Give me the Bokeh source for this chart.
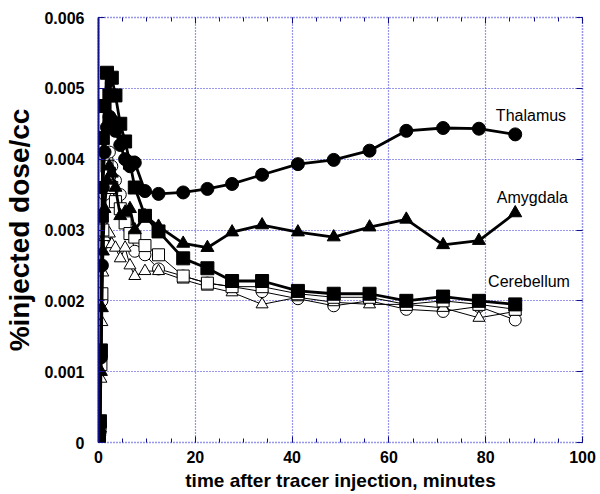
from bokeh.plotting import figure
from bokeh.models import (LinearAxis, SingleIntervalTicker, FixedTicker,
                          CustomJSTickFormatter, ColumnDataSource, Range1d)
from bokeh.core.properties import value
from bokeh.embed import file_html
from bokeh.resources import INLINE

# time after tracer injection (minutes)
times = [0.1, 0.3, 0.5, 0.7, 0.9, 1.25, 1.75, 2.25, 2.75, 3.5, 4.5, 5.5, 6.5, 7.5,
         9.6, 12.4, 17.5, 22.5, 27.6, 33.8, 41.2, 48.6, 56.0, 63.6, 71.2, 78.6, 86.1]

# %injected dose/cc, in units of 1e-3
thalamus = [0.05, 0.25, 1.2, 2.5, 3.6, 4.1, 4.45, 4.6, 4.55, 4.4, 4.2, 4.0, 3.9, 3.95,
            3.55, 3.51, 3.53, 3.58, 3.65, 3.78, 3.93, 3.99, 4.12, 4.40, 4.44, 4.43, 4.35]
amygdala = [0.03, 0.2, 1.0, 1.9, 2.7, 3.3, 3.7, 3.9, 3.8, 3.6, 3.2, 3.25, 3.3, 3.0,
            3.2, 3.05, 2.81, 2.75, 2.97, 3.07, 2.97, 2.90, 3.04, 3.15, 2.79, 2.85, 3.24]
cerebellum = [0.07, 0.3, 1.3, 3.2, 4.3, 4.75, 5.22, 4.9, 5.15, 4.9, 4.5, 4.25, 3.95, 3.6,
              3.2, 2.98, 2.6, 2.46, 2.28, 2.28, 2.14, 2.10, 2.10, 2.00, 2.06, 2.00, 1.95]
open_circles = [0.03, 0.2, 1.2, 2.0, 2.8, 3.5, 4.0, 4.1, 3.9, 3.7, 3.5, 3.2, 3.0, 2.7,
                2.65, 2.45, 2.35, 2.25, 2.2, 2.13, 2.03, 1.93, 2.0, 1.88, 1.85, 1.92, 1.73]
open_triangles = [0.02, 0.15, 0.9, 1.7, 2.4, 2.9, 3.0, 2.95, 2.8, 2.75, 2.6, 2.75, 2.5, 2.35,
                  2.42, 2.42, 2.3, 2.2, 2.12, 1.95, 2.05, 1.98, 1.95, 1.95, 1.9, 1.76, 1.85]
open_squares = [0.03, 0.2, 1.1, 2.1, 3.0, 3.6, 3.9, 3.8, 3.6, 3.4, 3.3, 3.1, 2.95, 2.9,
                2.78, 2.65, 2.35, 2.25, 2.2, 2.2, 2.1, 2.05, 2.05, 1.95, 2.0, 1.95, 1.88]

y_ticks = [0, 0.001, 0.002, 0.003, 0.004, 0.005, 0.006]

label_text = ["Thalamus", "Amygdala", "Cerebellum"]
label_x = [82.1, 82.3, 80.5]
label_y = [0.00461, 0.00346, 0.00228]

BLUE = "#3030d8"
NAVY = "#10108a"
FONT = "Liberation Sans"

p = figure(width=600, height=494, x_range=Range1d(0, 100), y_range=Range1d(0, 0.006),
           output_backend="svg", toolbar_location=None,
           min_border_left=98, min_border_right=18, min_border_top=17, min_border_bottom=52)
p.background_fill_color = "white"
p.border_fill_color = "white"
p.outline_line_color = BLUE
p.outline_line_dash = "1 2"
p.outline_line_width = 1.5

xt = SingleIntervalTicker(interval=20, num_minor_ticks=4)
yt = FixedTicker(ticks=y_ticks, minor_ticks=[])

p.xgrid.ticker = xt
p.ygrid.ticker = yt
for g in (p.xgrid[0], p.ygrid[0]):
    g.grid_line_color = BLUE
    g.grid_line_dash = "1 2"
    g.grid_line_width = 1.2

xa = p.xaxis[0]
xa.ticker = xt
xa.axis_line_color = None
xa.major_tick_in = 6
xa.major_tick_out = 0
xa.minor_tick_in = 4
xa.minor_tick_out = 0
xa.major_tick_line_color = NAVY
xa.minor_tick_line_color = NAVY
xa.major_label_text_font = FONT
xa.major_label_text_font_style = "bold"
xa.major_label_text_font_size = "16px"
xa.major_label_text_color = "black"
xa.major_label_standoff = 8
xa.axis_label = "time after tracer injection, minutes"
xa.axis_label_text_font = FONT
xa.axis_label_text_font_style = "bold"
xa.axis_label_text_font_size = "19px"
xa.axis_label_text_color = "black"
xa.axis_label_standoff = 4

ya = p.yaxis[0]
ya.ticker = yt
ya.formatter = CustomJSTickFormatter(code="return tick == 0 ? '0' : tick.toFixed(3);")
ya.axis_line_color = NAVY
ya.axis_line_width = 2
ya.major_tick_in = 6
ya.major_tick_out = 0
ya.minor_tick_in = 0
ya.minor_tick_out = 0
ya.major_tick_line_color = NAVY
ya.major_label_text_font = FONT
ya.major_label_text_font_style = "bold"
ya.major_label_text_font_size = "16px"
ya.major_label_text_color = "black"
ya.major_label_standoff = 14
ya.axis_label = "%injected dose/cc"
ya.axis_label_text_font = FONT
ya.axis_label_text_font_style = "bold"
ya.axis_label_text_font_size = "28px"
ya.axis_label_text_color = "black"
ya.axis_label_standoff = 6

top = LinearAxis(ticker=xt, axis_line_color=None, major_tick_in=6, major_tick_out=0,
                 minor_tick_in=4, minor_tick_out=0, major_tick_line_color=NAVY,
                 minor_tick_line_color=NAVY, major_label_text_font_size="0px",
                 major_label_standoff=0)
right = LinearAxis(ticker=yt, axis_line_color=None, major_tick_in=6, major_tick_out=0,
                   minor_tick_in=0, minor_tick_out=0, major_tick_line_color=NAVY,
                   major_label_text_font_size="0px", major_label_standoff=0)
p.add_layout(top, "above")
p.add_layout(right, "right")

src = ColumnDataSource(dict(
    t=times,
    thal=[v * 1e-3 for v in thalamus],
    amyg=[v * 1e-3 for v in amygdala],
    cereb=[v * 1e-3 for v in cerebellum],
    oc=[v * 1e-3 for v in open_circles],
    ot=[v * 1e-3 for v in open_triangles],
    os=[v * 1e-3 for v in open_squares],
))

# open markers, thin lines
for col, marker in (("oc", "circle"), ("ot", "triangle"), ("os", "square")):
    p.line("t", col, source=src, line_color="black", line_width=1)
    p.scatter("t", col, source=src, marker=marker, size=12, fill_color="white",
              line_color="black", line_width=1)

# filled markers, thick lines
for col, marker in (("cereb", "square"), ("amyg", "triangle"), ("thal", "circle")):
    p.line("t", col, source=src, line_color="black", line_width=2.8)
    p.scatter("t", col, source=src, marker=marker, size=13, fill_color="black",
              line_color="black")

lsrc = ColumnDataSource(dict(x=label_x, y=label_y, text=label_text))
p.text("x", "y", text="text", source=lsrc, text_font=value(FONT), text_font_size="16px",
       text_baseline="middle", text_align="left", text_color="black")

open("out.html", "w").write(file_html(p, INLINE))
